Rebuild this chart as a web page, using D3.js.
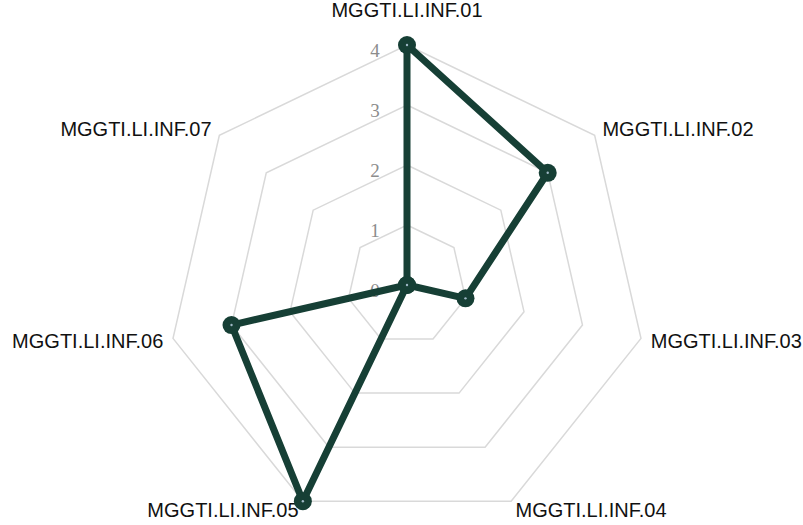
<!DOCTYPE html>
<html>
<head>
<meta charset="utf-8">
<script src="https://cdn.jsdelivr.net/npm/d3@7"></script>
<style>
  html, body { margin: 0; padding: 0; background: #ffffff; }
  svg { display: block; }
</style>
</head>
<body>
<svg id="chart" width="803" height="525"></svg>
<script>
// Indicator axes, clockwise from the top
const categories = [
  "MGGTI.LI.INF.01", "MGGTI.LI.INF.02", "MGGTI.LI.INF.03", "MGGTI.LI.INF.04",
  "MGGTI.LI.INF.05", "MGGTI.LI.INF.06", "MGGTI.LI.INF.07"
];
// Score for each indicator
const values = [4, 3, 1, 0, 4, 3, 0];
// Radial tick levels
const tickLevels = [0, 1, 2, 3, 4];

const width = 803, height = 525;
const cx = 407, cy = 285;
const outerR = 240, labelR = 250;
const lineColor = "#163f35";

const svg = d3.select("#chart");

const r = d3.scaleLinear().domain([0, d3.max(tickLevels)]).range([0, outerR]);
const angle = d3.scaleLinear().domain([0, categories.length]).range([0, 2 * Math.PI]);

const pt = (i, v) => {
  const a = angle(i);
  return [cx + r(v) * Math.sin(a), cy - r(v) * Math.cos(a)];
};

// Concentric polygon grid
const grid = svg.append("g");
tickLevels.filter(t => t > 0).forEach(t => {
  grid.append("path")
    .attr("d", d3.line()(categories.map((c, i) => pt(i, t))) + "Z")
    .attr("fill", "none")
    .attr("stroke", "#d9d9d9")
    .attr("stroke-width", 1.5);
});

// Tick labels along the first axis
svg.append("g").selectAll("text")
  .data(tickLevels)
  .join("text")
  .attr("x", cx - 32)
  .attr("y", d => cy - r(d) + 12)
  .attr("text-anchor", "middle")
  .attr("font-family", "'Liberation Serif', 'DejaVu Serif', serif")
  .attr("font-size", 19)
  .style("font-variant-numeric", "oldstyle-nums")
  .attr("fill", "#8c8c8c")
  .text(d => d);

// Axis labels
svg.append("g").selectAll("text")
  .data(categories)
  .join("text")
  .each(function (d, i) {
    const a = angle(i);
    const s = Math.sin(a), c = Math.cos(a);
    const x = cx + labelR * s;
    let y = cy - labelR * c;
    if (Math.abs(s) < 0.1) y -= 25 * c;
    d3.select(this)
      .attr("x", x)
      .attr("y", y)
      .attr("text-anchor", s > 0.1 ? "start" : s < -0.1 ? "end" : "middle")
      .attr("dominant-baseline", "central");
  })
  .attr("font-family", "'Liberation Sans', Arial, sans-serif")
  .attr("font-size", 20)
  .attr("fill", "#111111")
  .text(d => d);

// Data polygon
const points = values.map((v, i) => pt(i, v));
svg.append("path")
  .attr("d", d3.line()(points) + "Z")
  .attr("fill", "none")
  .attr("stroke", lineColor)
  .attr("stroke-width", 7)
  .attr("stroke-linejoin", "round");

const markers = svg.append("g").selectAll("g")
  .data(values)
  .join("g")
  .attr("transform", (v, i) => `translate(${pt(i, v)})`);
markers.append("circle").attr("r", 9).attr("fill", lineColor);
markers.append("circle").attr("r", 1.2).attr("fill", "#9fb8c6");
</script>
</body>
</html>
